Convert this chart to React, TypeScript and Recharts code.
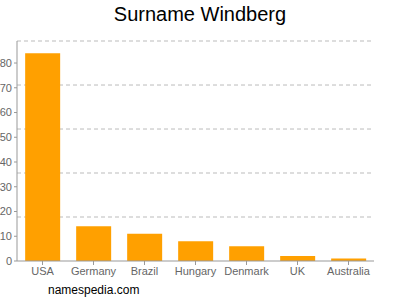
import React from 'react';
import { BarChart, Bar, XAxis, YAxis, CartesianGrid } from 'recharts';

const countries = ['USA', 'Germany', 'Brazil', 'Hungary', 'Denmark', 'UK', 'Australia'];
const counts = [84, 14, 11, 8, 6, 2, 1];
const yTicks = [0, 10, 20, 30, 40, 50, 60, 70, 80];
const yMax = 88.9;
const gridValues = [17.78, 35.56, 53.33, 71.11, 88.9];

const data = countries.map((name, i) => ({ name, value: counts[i] }));

export default function App() {
  return (
    <div style={{ position: 'absolute', left: 0, top: 0, width: 400, height: 300, background: '#fff', fontFamily: '"Liberation Sans", Arial, sans-serif' }}>
      <div style={{ position: 'absolute', left: 0, top: 3, width: 400, textAlign: 'center', fontSize: 20, color: '#000' }}>
        Surname Windberg
      </div>
      <BarChart width={400} height={300} data={data} margin={{ top: 41, right: 26, left: 0, bottom: 19 }} barCategoryGap="16%">
        <CartesianGrid vertical={false} horizontalValues={gridValues} stroke="#bbb" strokeDasharray="4 3" />
        <XAxis dataKey="name" height={20} tickSize={4} interval={0} axisLine={{ stroke: '#999' }} tickLine={{ stroke: '#999' }} tick={{ fontSize: 11, fill: '#666' }} />
        <YAxis width={17} domain={[0, yMax]} ticks={yTicks} tickSize={3} axisLine={{ stroke: '#999' }} tickLine={{ stroke: '#999' }} tick={{ fontSize: 11, fill: '#666' }} />
        <Bar dataKey="value" fill="#ffa000" isAnimationActive={false} />
      </BarChart>
      <div style={{ position: 'absolute', left: 48, top: 283, fontSize: 12, color: '#000' }}>namespedia.com</div>
    </div>
  );
}
